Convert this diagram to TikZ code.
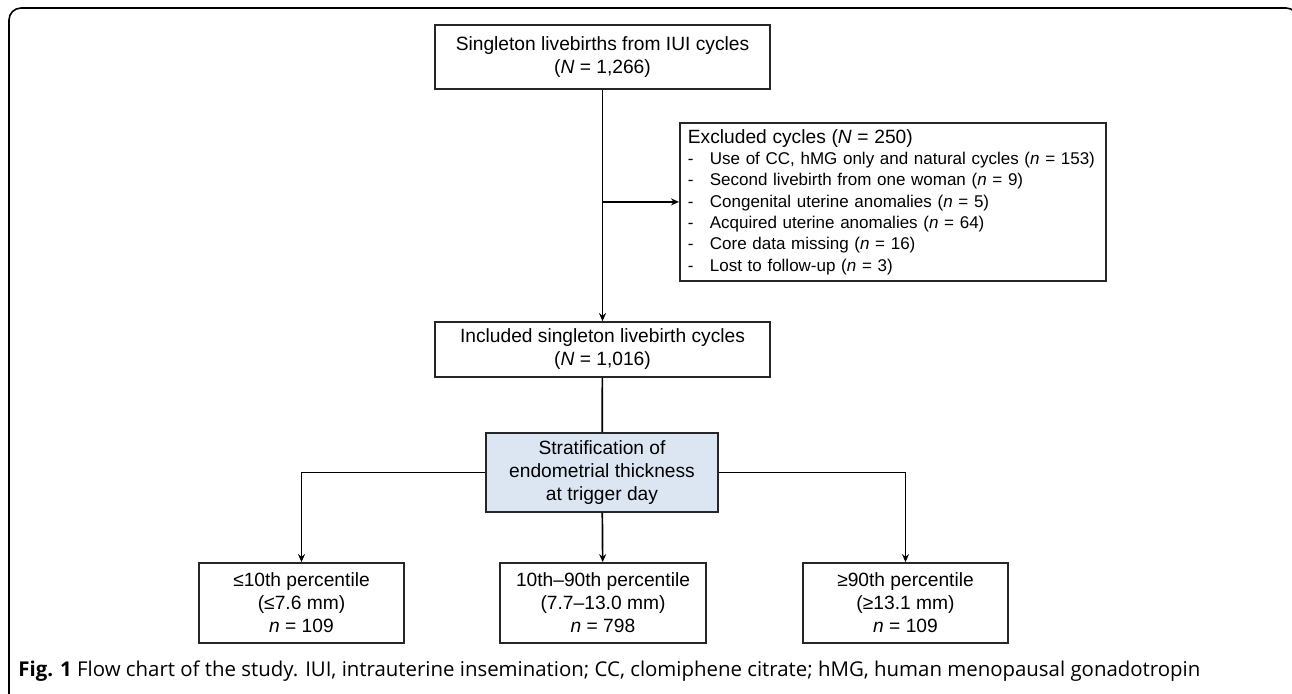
\documentclass[tikz,border=0pt]{standalone}
\usepackage{fontspec}
\setmainfont{Liberation Sans}
\newfontfamily\capfont{Open Sans}
\usetikzlibrary{arrows.meta}
\definecolor{stratblue}{RGB}{220,230,242}
\tikzset{
	box/.style={draw=black!85, line width=0.9pt, align=center, inner sep=0pt, font=\fontsize{9.6}{11.5}\selectfont},
	link/.style={line width=0.85pt},
	arr/.style={link, arrows=-{Stealth[length=4pt,width=3.5pt]}},
}
\newcommand{\exitem}[1]{\mbox{\makebox[11pt][l]{-}#1}}

\begin{document}
\begin{tikzpicture}[x=0.5pt,y=-0.5pt]
	\useasboundingbox (0,0) rectangle (1292,693);
	% outer frame
	\draw [line width=0.8pt, rounded corners=6pt] (9,710) -- (9,8) -- (1298,8) -- (1298,710);
	% boxes
	\node [box, minimum width=167.5pt, minimum height=32pt] (births) at (602.5,57) {Singleton livebirths from IUI cycles\\(\textit{N} = 1,266)};
	\node [box, anchor=north west, minimum width=213pt, minimum height=79pt, text width=205pt, inner xsep=4pt, align=left, font=\fontsize{8.5}{10.65}\selectfont] (excl) at (679,122) {\mbox{\fontsize{9.6}{10.65}\selectfont Excluded cycles (\textit{N} = 250)}\\
		\exitem{Use of CC, hMG only and natural cycles (\textit{n} = 153)}\\
		\exitem{Second livebirth from one woman (\textit{n} = 9)}\\
		\exitem{Congenital uterine anomalies (\textit{n} = 5)}\\
		\exitem{Acquired uterine anomalies (\textit{n} = 64)}\\
		\exitem{Core data missing (\textit{n} = 16)}\\
		\exitem{Lost to follow-up (\textit{n} = 3)}};
	\node [box, minimum width=167.5pt, minimum height=27.5pt] (incl) at (602.5,349.5) {Included singleton livebirth cycles\\(\textit{N} = 1,016)};
	\node [box, fill=stratblue, minimum width=116pt, minimum height=39.5pt] (strat) at (602,472.5) {Stratification of\\endometrial thickness\\at trigger day};
	\node [box, minimum width=102.5pt, minimum height=40pt] (low) at (301.5,603) {≤10th percentile\\(≤7.6 mm)\\\textit{n} = 109};
	\node [box, minimum width=103pt, minimum height=40pt] (mid) at (603,603) {10th–90th percentile\\(7.7–13.0 mm)\\\textit{n} = 798};
	\node [box, minimum width=102.5pt, minimum height=40pt] (high) at (905.5,603) {≥90th percentile\\(≥13.1 mm)\\\textit{n} = 109};
	% connectors
	\coordinate (branch) at (births.south |- excl.west);
	\draw [arr] (births) -- (incl);
	\draw [arr] (branch) -- (excl.west);
	\draw [link] (incl) -- (strat);
	\draw [arr] (strat.west) -| (low.north);
	\draw [arr] (strat) -- (mid);
	\draw [arr] (strat.east) -| (high.north);
	% caption
	\node [anchor=west, inner sep=0pt, font=\capfont\fontsize{10.2}{12}\selectfont] (caption) at (18,671) {\textbf{Fig. 1} Flow chart of the study. IUI, intrauterine insemination; CC, clomiphene citrate; hMG, human menopausal gonadotropin};
\end{tikzpicture}
\end{document}
